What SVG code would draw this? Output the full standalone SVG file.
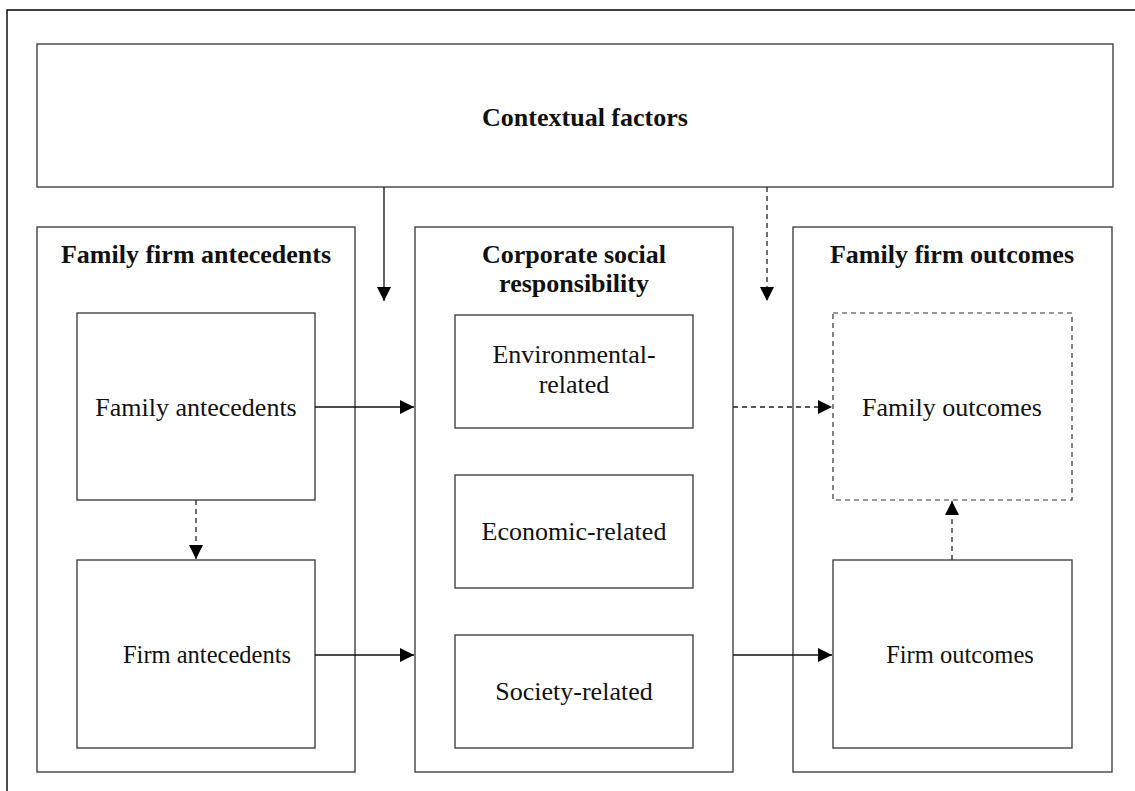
<svg xmlns="http://www.w3.org/2000/svg" width="1135" height="791" viewBox="0 0 1135 791">
<style>
.box{fill:#fff;stroke:#444;stroke-width:1.4}
.dbox{fill:#fff;stroke:#333;stroke-width:1.2;stroke-dasharray:5,4}
.ln{fill:none;stroke:#111;stroke-width:1.3}
.dl{fill:none;stroke:#222;stroke-width:1.3;stroke-dasharray:5,4}
.t{font-family:"Liberation Serif","Times New Roman",serif;font-size:26px;fill:#111;text-anchor:middle}
.b{font-weight:bold}
.s{font-size:24.5px}
</style>
<defs>
<marker id="ah" markerWidth="14" markerHeight="14" refX="14" refY="7" orient="auto" markerUnits="userSpaceOnUse">
<path d="M0,0 L14,7 L0,14 Z" fill="#000"/>
</marker>
</defs>
<rect width="1135" height="791" fill="#fff"/>
<g id="frame"><path d="M7,791 V10 H1135" fill="none" stroke="#000" stroke-width="1.4"/></g>
<g id="contextual"><rect class="box" x="37" y="44" width="1076" height="143"/><text class="t b" x="585" y="126">Contextual factors</text></g>
<g id="antecedents"><rect class="box" x="37" y="227" width="318" height="545"/><text class="t b" x="196" y="263">Family firm antecedents</text></g>
<g id="csr"><rect class="box" x="415" y="227" width="318" height="545"/><text class="t b" x="574" y="263">Corporate social</text><text class="t b" x="574" y="292">responsibility</text></g>
<g id="outcomes"><rect class="box" x="793" y="227" width="319" height="545"/><text class="t b" x="952" y="263">Family firm outcomes</text></g>
<g id="family-antecedents"><rect class="box" x="77" y="313" width="238" height="187"/><text class="t" x="196" y="416">Family antecedents</text></g>
<g id="firm-antecedents"><rect class="box" x="77" y="560" width="238" height="188"/><text class="t s" x="207" y="663">Firm antecedents</text></g>
<g id="environmental"><rect class="box" x="455" y="315" width="238" height="113"/><text class="t" x="574" y="363">Environmental-</text><text class="t" x="574" y="393">related</text></g>
<g id="economic"><rect class="box" x="455" y="475" width="238" height="113"/><text class="t" x="574" y="540">Economic-related</text></g>
<g id="society"><rect class="box" x="455" y="635" width="238" height="113"/><text class="t" x="574" y="700">Society-related</text></g>
<g id="family-outcomes"><rect class="dbox" x="833" y="313" width="239" height="187"/><text class="t" x="952" y="416">Family outcomes</text></g>
<g id="firm-outcomes"><rect class="box" x="833" y="560" width="239" height="188"/><text class="t s" x="960" y="663">Firm outcomes</text></g>
<g id="connectors">
<line class="ln" x1="384" y1="187" x2="384" y2="301" marker-end="url(#ah)"/>
<line class="dl" x1="767" y1="187" x2="767" y2="301" marker-end="url(#ah)"/>
<line class="ln" x1="315" y1="407" x2="414" y2="407" marker-end="url(#ah)"/>
<line class="ln" x1="315" y1="655" x2="414" y2="655" marker-end="url(#ah)"/>
<line class="dl" x1="733" y1="407" x2="832" y2="407" marker-end="url(#ah)"/>
<line class="ln" x1="733" y1="655" x2="832" y2="655" marker-end="url(#ah)"/>
<line class="dl" x1="196" y1="500" x2="196" y2="559" marker-end="url(#ah)"/>
<line class="dl" x1="952" y1="560" x2="952" y2="501" marker-end="url(#ah)"/>
</g>
</svg>
